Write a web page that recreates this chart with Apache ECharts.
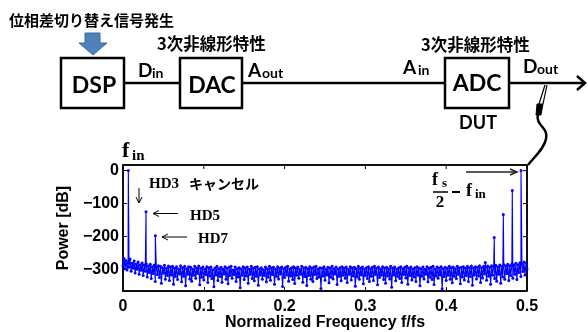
<!DOCTYPE html>
<html>
<head>
<meta charset="utf-8">
<script src="https://cdn.jsdelivr.net/npm/echarts@6/dist/echarts.min.js"></script>
<style>
  html, body { margin: 0; padding: 0; background: #fff; }
  #chart { width: 588px; height: 332px; }
</style>
</head>
<body>
<div id="chart"></div>
<script>
// Output spectrum of the ADC under test (normalized frequency vs. power in dB)

// noise floor, one value per bin (bin width 0.00125 in f/fs)
const noiseStep = 0.00125;
const noiseDb = [
  -288, -266, -297, -272, -301, -279, -293, -268, -305, -281, -296, -274, -310, -283, -299, -277, -314, -285, -302, -280,
  -318, -286, -305, -282, -322, -289, -309, -284, -327, -291, -312, -286, -336, -293, -315, -288, -324, -290, -341, -294,
  -311, -287, -329, -295, -318, -289, -333, -292, -316, -290, -344, -296, -321, -291, -330, -298, -313, -288, -337, -294,
  -320, -290, -349, -297, -314, -291, -328, -293, -335, -299, -317, -290, -326, -295, -312, -289, -346, -296, -323, -292,
  -331, -298, -315, -291, -339, -294, -319, -292, -327, -300, -352, -295, -316, -290, -333, -297, -321, -293, -338, -299,
  -313, -291, -329, -296, -343, -293, -318, -290, -326, -301, -315, -292, -336, -297, -322, -294, -355, -298, -317, -291,
  -330, -295, -319, -292, -341, -299, -314, -290, -327, -296, -334, -293, -320, -291, -347, -298, -316, -294, -329, -300,
  -318, -292, -337, -297, -323, -290, -332, -295, -315, -293, -344, -299, -321, -291, -328, -296, -313, -292, -351, -297,
  -324, -293, -316, -290, -335, -298, -319, -294, -330, -291, -342, -296, -317, -292, -326, -299, -314, -290, -338, -295,
  -321, -293, -348, -297, -318, -291, -329, -296, -336, -292, -315, -290, -327, -298, -322, -294, -357, -296, -319, -291,
  -332, -299, -316, -293, -340, -295, -323, -290, -328, -297, -313, -292, -345, -298, -320, -294, -334, -291, -317, -296,
  -326, -292, -339, -299, -314, -291, -331, -295, -319, -293, -350, -297, -322, -290, -329, -296, -316, -292, -343, -298,
  -318, -294, -327, -291, -336, -297, -320, -293, -333, -290, -315, -296, -346, -292, -324, -298, -317, -291, -330, -295,
  -341, -293, -319, -297, -328, -290, -353, -296, -316, -292, -334, -299, -321, -294, -327, -291, -339, -297, -315, -293,
  -325, -290, -344, -296, -318, -292, -331, -298, -322, -294, -336, -291, -317, -295, -349, -297, -320, -292, -328, -299,
  -314, -291, -337, -296, -323, -293, -330, -290, -345, -298, -319, -292, -326, -295, -316, -291, -358, -297, -321, -293,
  -333, -296, -317, -290, -329, -294, -340, -292, -320, -297, -327, -290, -315, -295, -343, -293, -322, -291, -331, -296,
  -318, -290, -336, -294, -321, -289, -347, -295, -316, -291, -328, -293, -319, -288, -339, -294, -325, -290, -313, -292,
  -332, -289, -320, -293, -344, -288, -317, -291, -327, -287, -335, -292, -314, -286, -341, -290, -322, -285, -329, -289,
  -312, -284, -333, -288, -318, -283, -326, -286, -314, -281, -330, -285, -309, -279, -321, -283, -306, -277, -316, -280,
  -298
];

// tones: fundamental, HD5, HD7 and the images near fs/2
const spikeFreq = [0.0066, 0.0285, 0.0400, 0.4484, 0.4595, 0.4707, 0.4818, 0.4926];
const spikeDb   = [0,      -125,   -197,   -278,   -203,   -133,   -60,    0];

const yTickValues = [0, -100, -200, -300];
const xTickValues = [0, 0.1, 0.2, 0.3, 0.4, 0.5];
const yMin = -365, yMax = 17;
const xMin = 0, xMax = 0.5;

const points = [];
noiseDb.forEach((v, i) => points.push([+(i * noiseStep).toFixed(5), v]));
spikeFreq.forEach((f, i) => points.push([f, spikeDb[i]]));
points.sort((a, b) => a[0] - b[0]);

const SANS = 'Liberation Sans';
const DIAG = 'Lato';
const CJK = 'Noto Sans CJK JP';
const SERIF = 'Liberation Serif';

function txt(text, x, y, size, family, extra) {
  return {
    type: 'text', x: x, y: y, silent: true,
    style: Object.assign({
      text: text, fontSize: size, fontFamily: family, fontWeight: 'bold',
      fill: '#000', align: 'left', verticalAlign: 'middle'
    }, (extra && extra.style) || {})
  };
}
function box(x, y, w, h) {
  return { type: 'rect', shape: { x: x, y: y, width: w, height: h },
    style: { fill: '#fff', stroke: '#000', lineWidth: 2.5 }, silent: true };
}
function seg(x1, y1, x2, y2, w, color) {
  return { type: 'line', shape: { x1: x1, y1: y1, x2: x2, y2: y2 },
    style: { stroke: color || '#000', lineWidth: w }, silent: true };
}
function chevron(pts, w, color) {
  return { type: 'polyline', shape: { points: pts },
    style: { stroke: color || '#000', lineWidth: w, fill: null }, silent: true };
}

const graphics = [
  // signal chain
  seg(124, 83, 584, 83, 2.5),
  chevron([[577, 76], [585, 83], [577, 90]], 2.5),
  box(61, 58, 63, 50),
  box(180, 58, 62, 50),
  box(445, 58, 64, 50),
  txt('DSP', 94, 86, 23, DIAG, { style: { align: 'center' } }),
  txt('DAC', 212, 86, 23, DIAG, { style: { align: 'center' } }),
  txt('ADC', 477, 84, 23, DIAG, { style: { align: 'center' } }),
  txt('DUT', 478, 123, 18, DIAG, { style: { align: 'center' } }),
  txt('位相差切り替え信号発生', 9, 20, 15, CJK),
  txt('3次非線形特性', 157, 44, 16.5, CJK),
  txt('3次非線形特性', 421, 45, 16.5, CJK),
  txt('D', 138, 71, 19, DIAG), txt('in', 152, 73, 14, DIAG),
  txt('A', 248, 71, 19, DIAG), txt('out', 262, 73, 14, DIAG),
  txt('A', 403, 68, 19, DIAG), txt('in', 418, 70, 14, DIAG),
  txt('D', 523, 67, 19, DIAG), txt('out', 537, 69, 14, DIAG),
  // control input arrow
  { type: 'polygon', silent: true,
    shape: { points: [[85, 33], [100, 33], [100, 43], [107, 43], [93, 55], [79, 43], [85, 43]] },
    style: { fill: '#4f81bd', stroke: '#3a6a9e', lineWidth: 1 } },
  // probe and cable
  seg(545, 85, 539, 104, 1.2), seg(547, 85, 543, 104, 1.2),
  { type: 'polygon', silent: true,
    shape: { points: [[537, 104], [543, 104], [541, 115], [536, 115]] },
    style: { fill: '#000', stroke: '#000', lineWidth: 1 } },
  { type: 'bezierCurve', silent: true,
    shape: { x1: 538, y1: 114, cpx1: 535, cpy1: 126, cpx2: 549, cpy2: 127, x2: 546, y2: 139 },
    style: { stroke: '#000', lineWidth: 2.5, fill: null } },
  { type: 'bezierCurve', silent: true,
    shape: { x1: 546, y1: 139, cpx1: 544, cpy1: 149, cpx2: 535, cpy2: 156, x2: 528, y2: 165 },
    style: { stroke: '#000', lineWidth: 2.5, fill: null } },
  // spectrum annotations
  txt('f', 122, 151, 22, SERIF), txt('in', 132, 156, 15, SERIF),
  txt('HD3', 149, 184, 15, SERIF), txt('キャンセル', 189, 184, 14, CJK),
  seg(139, 188, 139, 203, 1), chevron([[136, 197], [139, 203], [142, 197]], 1),
  txt('HD5', 190, 216, 15, SERIF),
  seg(153, 213.5, 178, 213.5, 1), chevron([[159, 210.5], [153, 213.5], [159, 216.5]], 1),
  txt('HD7', 198, 239, 15, SERIF),
  seg(162, 237, 187, 237, 1), chevron([[168, 234], [162, 237], [168, 240]], 1),
  seg(466, 172, 516, 172, 1.5, '#222'), chevron([[510, 169], [517, 172], [510, 175]], 1.5, '#222'),
  txt('f', 432, 180, 18, SERIF), txt('s', 442, 184, 13, SERIF),
  seg(433, 192, 448, 192, 1.5),
  txt('2', 440, 203, 17, SERIF, { style: { align: 'center' } }),
  seg(452, 192, 460, 192, 2),
  txt('f', 466, 191, 18, SERIF), txt('in', 475, 195, 13, SERIF)
];

const chart = echarts.init(document.getElementById('chart'), null, { renderer: 'canvas' });
const frameLine = () => ({ show: true, onZero: false, lineStyle: { color: '#000', width: 1.5 } });
const tick = () => ({ show: true, inside: true, length: 4, lineStyle: { color: '#000', width: 1 } });

chart.setOption({
  animation: false,
  grid: {
    left: 123, right: 61, top: 165, bottom: 40,
    show: true, borderColor: '#000', borderWidth: 1.5, backgroundColor: 'transparent'
  },
  xAxis: {
    type: 'value', min: xMin, max: xMax, interval: 0.1, position: 'bottom',
    name: 'Normalized Frequency f/fs', nameLocation: 'middle', nameGap: 22,
    nameTextStyle: { fontFamily: SANS, fontWeight: 'bold', fontSize: 16, color: '#000' },
    axisLine: frameLine(), axisTick: tick(), splitLine: { show: false },
    axisLabel: {
      color: '#000', fontFamily: SANS, fontWeight: 'bold', fontSize: 16, margin: 7,
      formatter: v => (v === 0 ? '0' : v.toFixed(1))
    }
  },
  yAxis: {
    type: 'value', min: yMin, max: yMax, position: 'left',
    name: 'Power [dB]', nameLocation: 'middle', nameGap: 44,
    nameTextStyle: { fontFamily: SANS, fontWeight: 'bold', fontSize: 16, color: '#000' },
    axisLine: frameLine(),
    axisTick: Object.assign({ customValues: yTickValues }, tick()),
    splitLine: { show: false },
    axisLabel: {
      customValues: yTickValues, color: '#000', fontFamily: SANS, fontWeight: 'bold',
      fontSize: 16, margin: 4, formatter: v => String(v).replace('-', '\u2212')
    }
  },
  series: [{
    type: 'line',
    data: points,
    showSymbol: true, showAllSymbol: true,
    symbol: 'circle', symbolSize: 3,
    itemStyle: { color: '#0000ff' },
    lineStyle: { color: '#0000ff', width: 1.1 },
    clip: true
  }],
  graphic: graphics
});

// closing top and right edges of the plot box, with inward ticks, placed through the axis scales
const [xL, yT] = chart.convertToPixel({ gridIndex: 0 }, [xMin, yMax]);
const [xR, yB] = chart.convertToPixel({ gridIndex: 0 }, [xMax, yMin]);
const frameEls = [seg(xL, yT, xR, yT, 1.5), seg(xR, yT, xR, yB, 1.5)];
xTickValues.forEach(v => {
  const x = chart.convertToPixel({ xAxisIndex: 0 }, v);
  frameEls.push(seg(x, yT, x, yT + 4, 1));
});
yTickValues.forEach(v => {
  const y = chart.convertToPixel({ yAxisIndex: 0 }, v);
  frameEls.push(seg(xR, y, xR - 4, y, 1));
});
chart.setOption({ graphic: graphics.concat(frameEls) });
</script>
</body>
</html>
